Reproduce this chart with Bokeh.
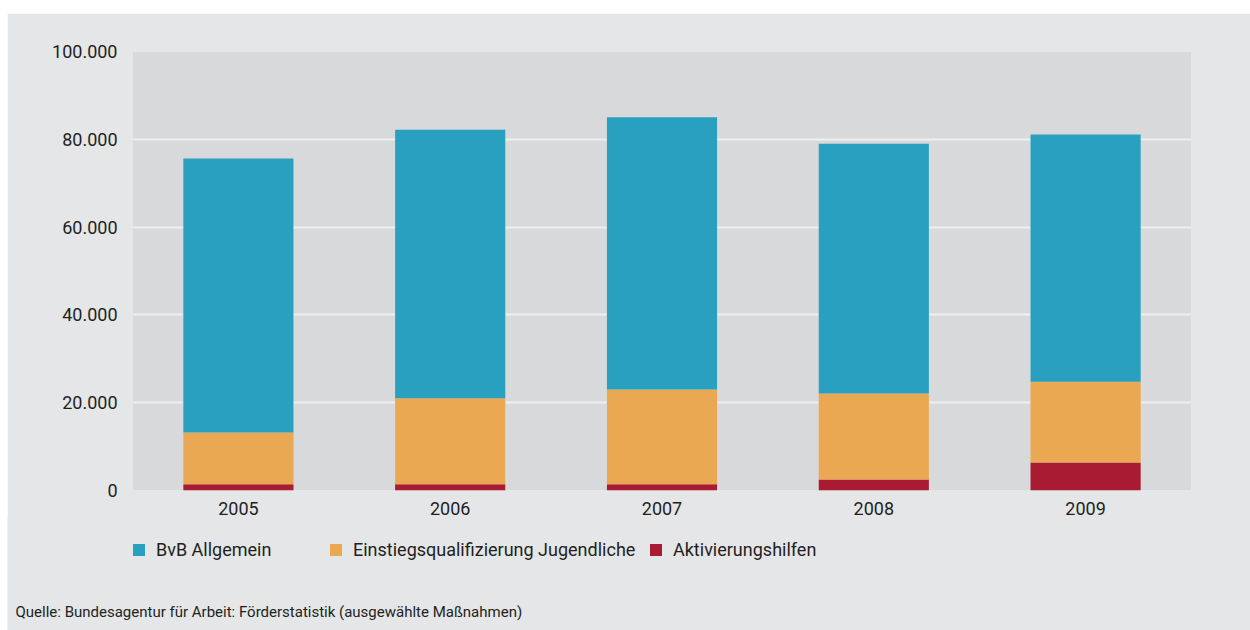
from bokeh.plotting import figure
from bokeh.models import (Range1d, FixedTicker, Legend, LegendItem, Label, FactorRange,
                          ColumnDataSource)
from bokeh.layouts import column
from bokeh.embed import file_html
from bokeh.resources import INLINE

years = ["2005", "2006", "2007", "2008", "2009"]
aktivierung = [1400, 1400, 1400, 2500, 6400]
einstieg_total = [13200, 21000, 23000, 22100, 24800]   # top of orange segment
bvb_total = [75600, 82200, 85000, 79000, 81100]        # top of teal segment
einstieg = [e - a for e, a in zip(einstieg_total, aktivierung)]
bvb = [b - e for b, e in zip(bvb_total, einstieg_total)]

series_names = ["BvB Allgemein", "Einstiegsqualifizierung Jugendliche", "Aktivierungshilfen"]
y_ticks = [0, 20000, 40000, 60000, 80000, 100000]
y_tick_labels = ["0", "20.000", "40.000", "60.000", "80.000", "100.000"]
source_text = "Quelle: Bundesagentur für Arbeit: Förderstatistik (ausgewählte Maßnahmen)"

C_TEAL = "#29a0bf"
C_ORANGE = "#eba852"
C_RED = "#a81b33"
OUTER = "#e5e6e8"
FRAME = "#d8d9db"
TXT = "#231f20"
FONT = "Roboto"

data = {"year": years, "akt": aktivierung, "ein": einstieg, "bvb": bvb}

# ---- main chart ----
p = figure(x_range=FactorRange(*years, range_padding=0), y_range=Range1d(0, 100000),
           width=1243, height=507,
           min_border_left=125, min_border_top=38, min_border_right=59, min_border_bottom=30,
           output_backend="svg", toolbar_location=None,
           background_fill_color=FRAME, border_fill_color=OUTER, outline_line_color=None)
p.margin = (13, 0, 0, 7)
p.frame_align = False

rs = p.vbar_stack(["akt", "ein", "bvb"], x="year", width=0.52, source=data,
                  color=[C_RED, C_ORANGE, C_TEAL], line_color=None)

p.xgrid.grid_line_color = None
p.ygrid.grid_line_color = "#eeeff0"
p.ygrid.grid_line_width = 2
p.yaxis.ticker = FixedTicker(ticks=y_ticks)
p.yaxis.major_label_overrides = {t: l for t, l in zip(y_ticks, y_tick_labels)}

for ax in (p.xaxis, p.yaxis):
    ax.axis_line_color = None
    ax.major_tick_line_color = None
    ax.minor_tick_line_color = None
    ax.major_label_text_font = FONT
    ax.major_label_text_font_size = "18px"
    ax.major_label_text_color = TXT
p.yaxis.major_label_standoff = 9
p.xaxis.major_label_standoff = 5

# ---- legend + source strip ----
p2 = figure(x_range=Range1d(0, 1243), y_range=Range1d(0, 112), width=1243, height=112,
            min_border=0, min_border_left=0, min_border_right=0, min_border_top=0,
            min_border_bottom=0, x_axis_location=None, y_axis_location=None,
            output_backend="svg", toolbar_location=None,
            background_fill_color=OUTER, border_fill_color=OUTER, outline_line_color=None)
p2.margin = (-2, 0, 0, 7)
p2.frame_align = False
p2.xgrid.grid_line_color = None
p2.ygrid.grid_line_color = None

legend_colors = [C_TEAL, C_ORANGE, C_RED]
legend_x = [124, 321, 641]
for name, col, lx in zip(series_names, legend_colors, legend_x):
    # zero-height stub renderer that only supplies the legend swatch
    stub = p2.vbar(x="x", top="top", width=1, color=col, line_color=None,
                   source=ColumnDataSource(data=dict(x=[0], top=[0])))
    lg = Legend(items=[LegendItem(label=name, renderers=[stub])],
                orientation="horizontal", location=(lx, 70),
                glyph_width=15, glyph_height=15, label_standoff=10,
                label_text_font=FONT, label_text_font_size="18px", label_text_color=TXT,
                background_fill_alpha=0, border_line_alpha=0, padding=0, margin=0)
    p2.add_layout(lg, "center")

src = Label(x=8, y=19, x_units="screen", y_units="screen", text=source_text,
            text_font=FONT, text_font_size="15px", text_color=TXT,
            text_baseline="middle", text_align="left")
p2.add_layout(src)

layout = column(p, p2, spacing=0)
open("out.html", "w").write(file_html(layout, INLINE))
